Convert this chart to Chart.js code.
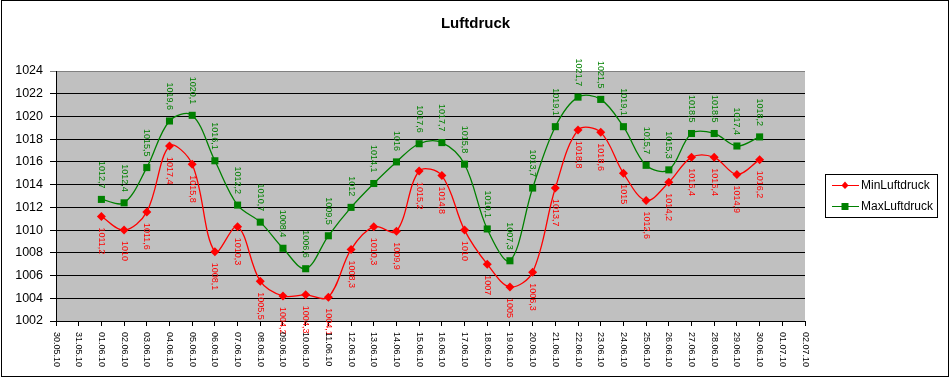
<!DOCTYPE html>
<html>
<head>
<meta charset="utf-8">
<script src="https://cdn.jsdelivr.net/npm/chart.js@4"></script>
<style>
  html, body { margin: 0; padding: 0; background: #fff; }
  canvas { display: block; }
</style>
</head>
<body>
<canvas id="myChart" width="951" height="378"></canvas>
<script>
const labels = ['30.05.10', '31.05.10', '01.06.10', '02.06.10', '03.06.10', '04.06.10', '05.06.10', '06.06.10',
  '07.06.10', '08.06.10', '09.06.10', '10.06.10', '11.06.10', '12.06.10', '13.06.10', '14.06.10', '15.06.10',
  '16.06.10', '17.06.10', '18.06.10', '19.06.10', '20.06.10', '21.06.10', '22.06.10', '23.06.10', '24.06.10',
  '25.06.10', '26.06.10', '27.06.10', '28.06.10', '29.06.10', '30.06.10', '01.07.10', '02.07.10']

const minLuftdruck = [null, null, 1011.2, 1010, 1011.6, 1017.4, 1015.8, 1008.1, 1010.3, 1005.5, 1004.2, 1004.3,
  1004.1, 1008.3, 1010.3, 1009.9, 1015.2, 1014.8, 1010, 1007, 1005, 1006.3, 1013.7, 1018.8, 1018.6, 1015,
  1012.6, 1014.2, 1016.4, 1016.4, 1014.9, 1016.2, null, null]

const maxLuftdruck = [null, null, 1012.7, 1012.4, 1015.5, 1019.6, 1020.1, 1016.1, 1012.2, 1010.7, 1008.4, 1006.6,
  1009.5, 1012, 1014.1, 1016, 1017.6, 1017.7, 1015.8, 1010.1, 1007.3, 1013.7, 1019.1, 1021.7, 1021.5, 1019.1,
  1015.7, 1015.3, 1018.5, 1018.5, 1017.4, 1018.2, null, null]

const FONT = '"Liberation Sans", Arial, sans-serif'

// grey plot area + outer frame
const background = {
  id: 'background',
  beforeDraw(chart) {
    const { ctx, chartArea: a } = chart
    ctx.save()
    ctx.fillStyle = '#c0c0c0'
    ctx.fillRect(a.left, a.top, a.right - a.left, a.bottom - a.top)
    ctx.restore()
  },
  afterDraw(chart) {
    const ctx = chart.ctx
    ctx.save()
    ctx.strokeStyle = '#000'
    ctx.lineWidth = 1
    ctx.strokeRect(1.5, 0.5, 947, 376)
    ctx.restore()
  }
}

// rotated date labels under the x axis
const xLabels = {
  id: 'xLabels',
  afterDraw(chart) {
    const { ctx, scales: { x } } = chart
    ctx.save()
    ctx.font = '9px ' + FONT
    ctx.fillStyle = '#000'
    ctx.textAlign = 'left'
    ctx.textBaseline = 'middle'
    labels.forEach((l, i) => {
      ctx.save()
      ctx.translate(x.getPixelForTick(i), x.bottom - 57 + 11)
      ctx.rotate(Math.PI / 2)
      ctx.fillText(l, 0, 0)
      ctx.restore()
    })
    ctx.restore()
  }
}

// rotated value labels: green above, red below
const valueLabels = {
  id: 'valueLabels',
  afterDatasetsDraw(chart) {
    const ctx = chart.ctx
    ctx.save()
    ctx.font = '9px ' + FONT
    ctx.textBaseline = 'middle'
    chart.data.datasets.forEach((ds, di) => {
      const meta = chart.getDatasetMeta(di)
      const above = di === 1
      meta.data.forEach((pt, i) => {
        const v = ds.data[i]
        if (v === null) return
        ctx.save()
        ctx.fillStyle = ds.borderColor
        ctx.translate(pt.x, above ? pt.y - 11 : pt.y + 11)
        ctx.rotate(Math.PI / 2)
        ctx.textAlign = above ? 'right' : 'left'
        ctx.fillText(String(v).replace('.', ','), 0, 0)
        ctx.restore()
      })
    })
    ctx.restore()
  }
}

// boxed legend on the right
const boxLegend = {
  id: 'boxLegend',
  afterDraw(chart) {
    const ctx = chart.ctx
    ctx.save()
    ctx.strokeStyle = '#000'
    ctx.lineWidth = 1
    ctx.strokeRect(825.5, 174.5, 112, 43)
    ctx.font = '12px ' + FONT
    ctx.textBaseline = 'middle'
    const rows = [{ y: 185, c: '#ff0000', t: 'MinLuftdruck', s: 'd' }, { y: 206, c: '#008000', t: 'MaxLuftdruck', s: 'q' }]
    rows.forEach(r => {
      ctx.strokeStyle = r.c
      ctx.fillStyle = r.c
      ctx.beginPath()
      ctx.moveTo(832, r.y + 0.5)
      ctx.lineTo(859, r.y + 0.5)
      ctx.stroke()
      ctx.beginPath()
      if (r.s === 'd') {
        ctx.moveTo(845, r.y - 3.5); ctx.lineTo(848.5, r.y + 0.5); ctx.lineTo(845, r.y + 4); ctx.lineTo(841.5, r.y + 0.5)
        ctx.closePath(); ctx.fill()
      } else {
        ctx.fillRect(841.5, r.y - 3, 7, 7)
      }
      ctx.fillStyle = '#000'
      ctx.fillText(r.t, 861, r.y + 1)
    })
    ctx.restore()
  }
}

const dataConfig = {
  labels: labels,
  datasets: [{
    label: 'MinLuftdruck',
    data: minLuftdruck,
    borderColor: '#ff0000',
    backgroundColor: '#ff0000',
    borderWidth: 1.3,
    pointStyle: 'rectRot',
    pointRadius: 4.5,
    pointBorderWidth: 0,
    tension: 0.35,
    clip: false
  }, {
    label: 'MaxLuftdruck',
    data: maxLuftdruck,
    borderColor: '#008000',
    backgroundColor: '#008000',
    borderWidth: 1.3,
    pointStyle: 'rect',
    pointRadius: 5,
    pointBorderWidth: 0,
    tension: 0.35,
    clip: false
  }]
}

const config = {
  type: 'line',
  data: dataConfig,
  options: {
    responsive: false,
    animation: false,
    devicePixelRatio: 1,
    layout: { padding: 0 },
    plugins: {
      legend: { display: false },
      tooltip: { enabled: false },
      title: {
        display: true,
        text: 'Luftdruck',
        color: '#000',
        font: { family: FONT, size: 15, weight: 'bold', lineHeight: 1.2 },
        padding: { top: 15, bottom: 38 }
      }
    },
    scales: {
      x: {
        offset: false,
        ticks: { display: false, autoSkip: false },
        grid: { drawOnChartArea: false, drawTicks: true, tickLength: 5, color: '#000' },
        border: { color: '#000' },
        afterFit: (s) => { s.height = 57 }
      },
      y: {
        min: 1002,
        max: 1024,
        ticks: { stepSize: 2, color: '#000', padding: 7, font: { family: FONT, size: 12.5 }, callback: (v) => String(v) },
        grid: { color: (c) => c.tick && c.tick.value === 1024 ? '#808080' : '#000', tickLength: 6 },
        border: { color: '#000' },
        afterFit: (s) => { s.width = 56 }
      },
      spacer: {
        position: 'right',
        display: true,
        ticks: { display: false },
        grid: { display: false },
        border: { display: false },
        afterFit: (s) => { s.width = 146 }
      }
    }
  },
  plugins: [background, xLabels, valueLabels, boxLegend]
}

const myChart = new Chart(document.getElementById('myChart'), config)
</script>
</body>
</html>
